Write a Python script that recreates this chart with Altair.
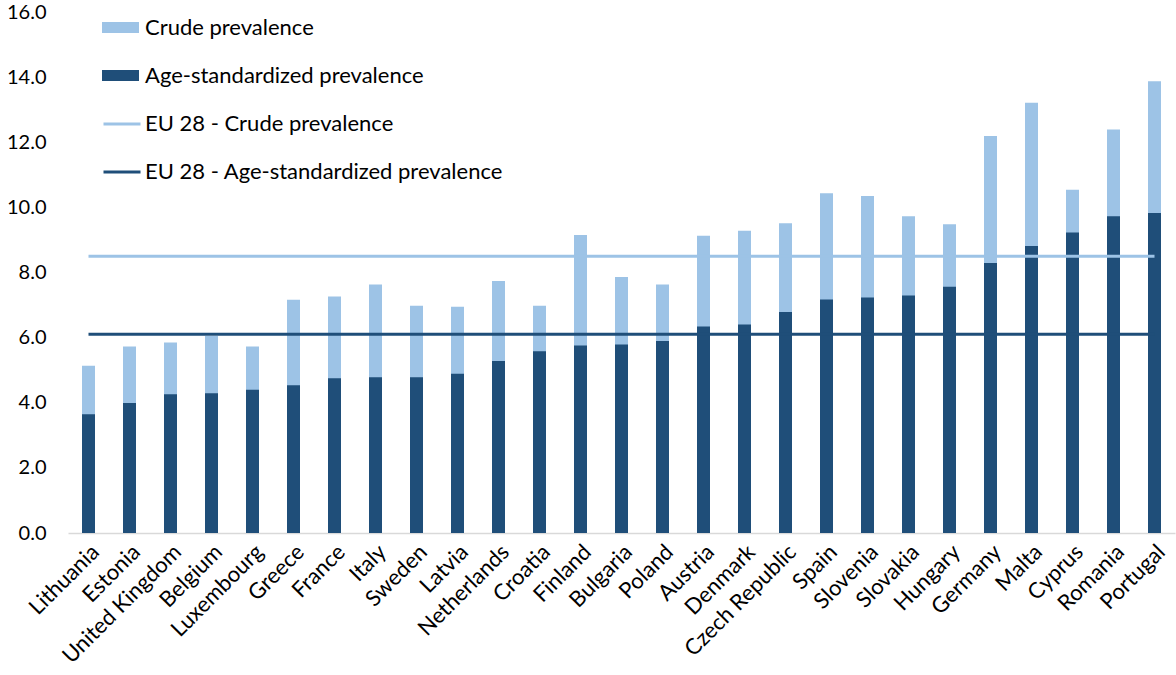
import altair as alt
import pandas as pd

countries = ["Lithuania", "Estonia", "United Kingdom", "Belgium", "Luxembourg", "Greece",
             "France", "Italy", "Sweden", "Latvia", "Netherlands", "Croatia", "Finland",
             "Bulgaria", "Poland", "Austria", "Denmark", "Czech Republic", "Spain",
             "Slovenia", "Slovakia", "Hungary", "Germany", "Malta", "Cyprus", "Romania",
             "Portugal"]
crude = [5.14, 5.73, 5.85, 6.05, 5.73, 7.16, 7.26, 7.63, 6.98, 6.95, 7.74, 6.98, 9.15,
         7.86, 7.63, 9.13, 9.28, 9.51, 10.43, 10.35, 9.73, 9.48, 12.19, 13.21, 10.54,
         12.39, 13.87]
age_std = [3.65, 3.99, 4.26, 4.29, 4.40, 4.54, 4.75, 4.78, 4.78, 4.89, 5.28, 5.58, 5.76,
           5.79, 5.90, 6.34, 6.40, 6.79, 7.17, 7.23, 7.29, 7.56, 8.29, 8.81, 9.23, 9.73,
           9.83]
eu_crude = 8.5
eu_age = 6.1

bar_series = ["Crude prevalence", "Age-standardized prevalence"]
line_series = ["EU 28 - Crude prevalence", "EU 28 - Age-standardized prevalence"]
light = "#9DC3E6"
dark = "#1F4E79"

bars = pd.DataFrame(
    [{"country": c, "value": v, "series": bar_series[0], "z": 0} for c, v in zip(countries, crude)]
    + [{"country": c, "value": v, "series": bar_series[1], "z": 1} for c, v in zip(countries, age_std)]
)
lines = pd.DataFrame(
    [{"country": c, "value": eu_crude, "eu": line_series[0]} for c in countries]
    + [{"country": c, "value": eu_age, "eu": line_series[1]} for c in countries]
)

x_enc = alt.X("country:N", sort=countries,
              scale=alt.Scale(paddingInner=0, paddingOuter=0),
              axis=alt.Axis(title=None, labelAngle=-45, labelFontSize=22, ticks=False,
                            domainColor="#d9d9d9", domainWidth=1.5, labelPadding=8,
                            labelColor="#000000", labelLimit=0))
y_enc = alt.Y("value:Q", stack=None,
              scale=alt.Scale(domain=[0, 16], nice=False),
              axis=alt.Axis(title=None, values=[0, 2, 4, 6, 8, 10, 12, 14, 16], format=".1f",
                            grid=False, domain=False, ticks=False, labelPadding=22,
                            labelFontSize=20, labelColor="#000000"))

bar_layer = alt.Chart(bars).mark_bar(size=13).encode(
    x=x_enc,
    y=y_enc,
    fill=alt.Fill("series:N", scale=alt.Scale(domain=bar_series, range=[light, dark]),
                  legend=alt.Legend(title=None, orient="none", legendX=34, legendY=-3,
                                    symbolType="M-1,-0.3H1V0.3H-1Z", symbolSize=1369,
                                    labelFontSize=22, rowPadding=18, padding=0,
                                    labelOffset=6, labelColor="#000000", labelLimit=0,
                                    symbolStrokeWidth=0)),
    order=alt.Order("z:Q"),
)

line_layer = alt.Chart(lines).mark_line(strokeWidth=3).encode(
    x=alt.X("country:N", sort=countries),
    y=alt.Y("value:Q"),
    stroke=alt.Stroke("eu:N", scale=alt.Scale(domain=line_series, range=[light, dark]),
                      legend=alt.Legend(title=None, orient="none", legendX=34, legendY=92,
                                        symbolType="stroke", symbolSize=1369,
                                        symbolStrokeWidth=3, labelFontSize=22,
                                        rowPadding=17, padding=0, labelOffset=3,
                                        labelColor="#000000", labelLimit=0)),
    detail="eu:N",
)

chart = alt.layer(bar_layer, line_layer).properties(
    width=1107, height=521,
    padding={"left": 68, "top": 12, "right": 1, "bottom": 142},
    autosize=alt.AutoSizeParams(type="none"),
).configure(font="Lato").configure_view(stroke=None)

chart.save("out.html", embed_options={"renderer": "svg", "actions": False})
